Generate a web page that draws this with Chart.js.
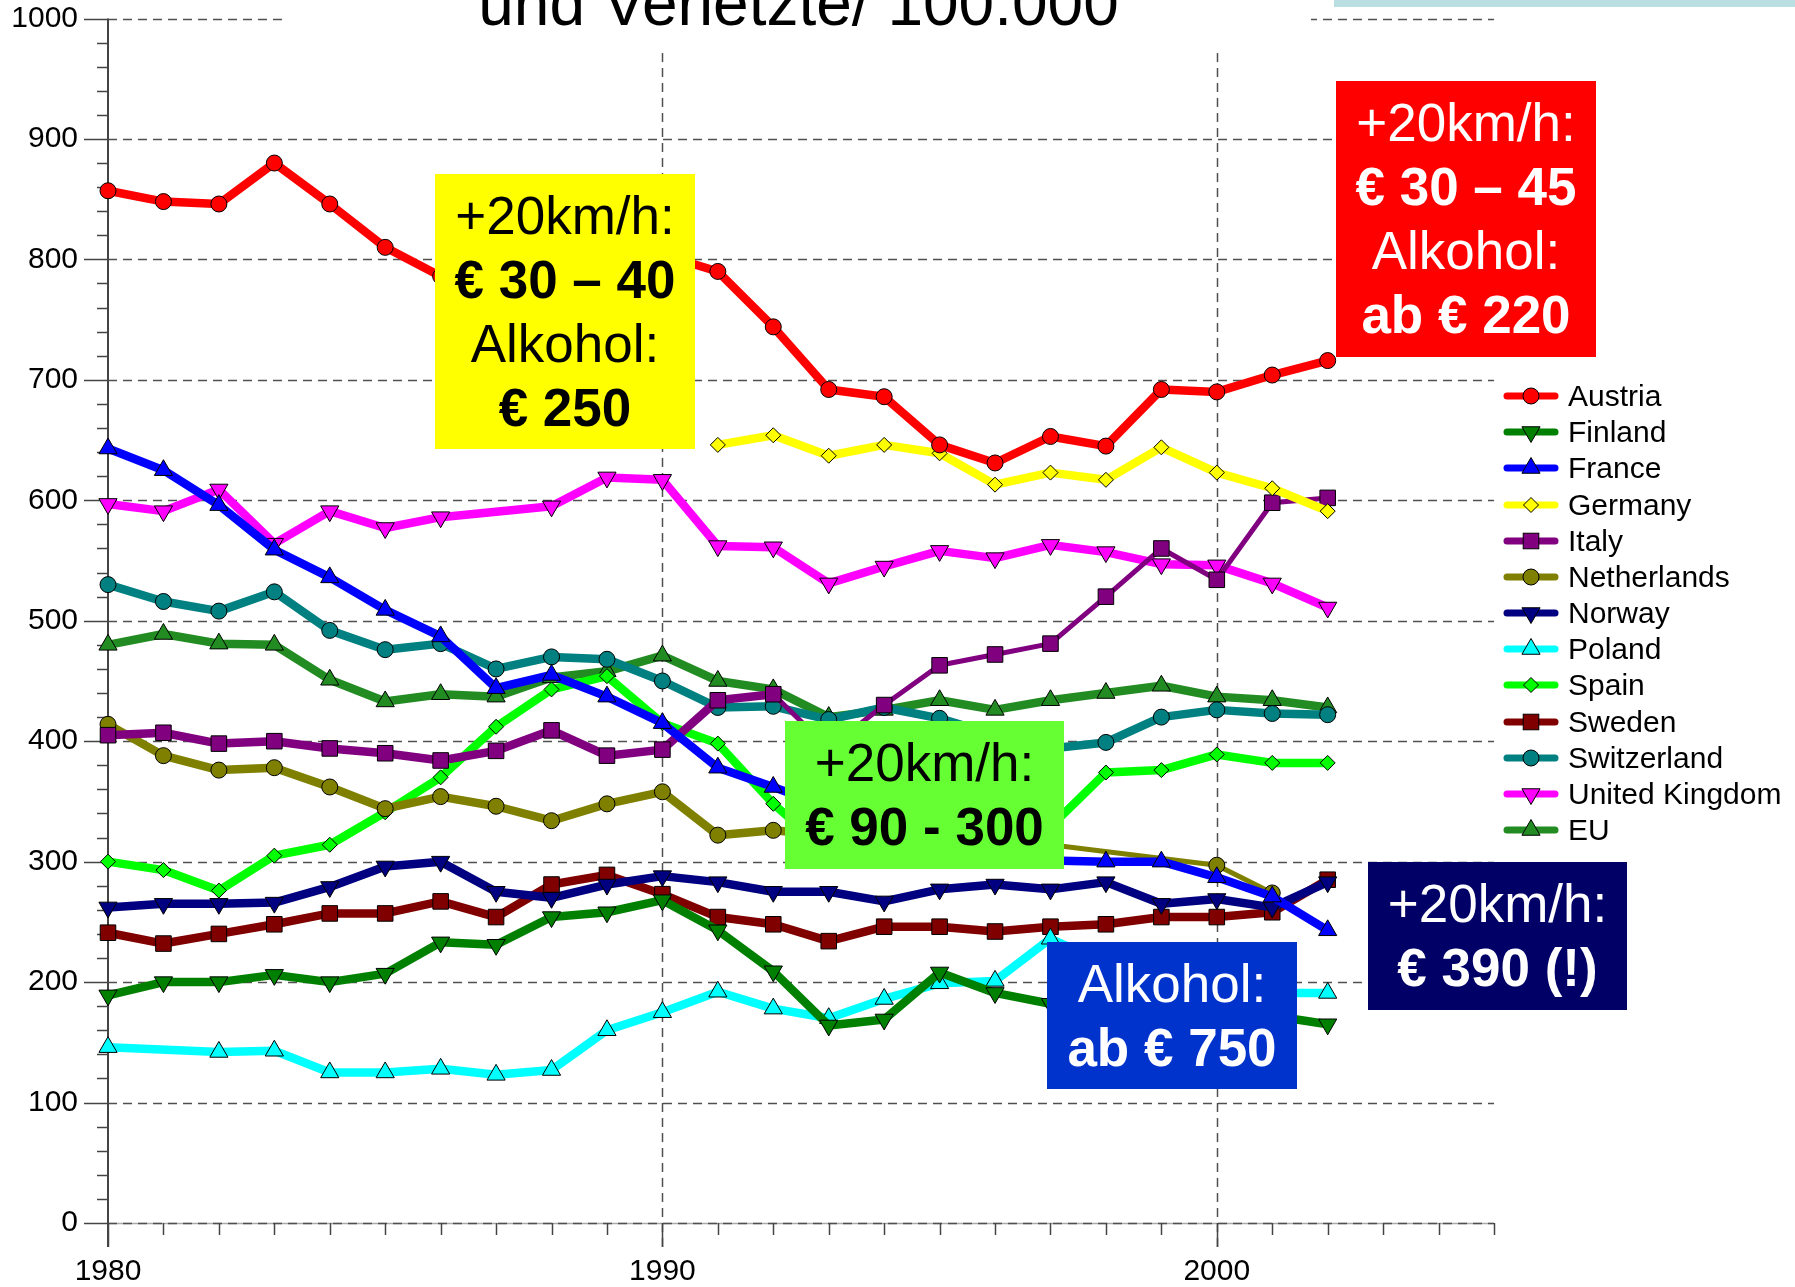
<!DOCTYPE html>
<html>
<head>
<meta charset="utf-8">
<script src="https://cdn.jsdelivr.net/npm/chart.js@4/dist/chart.umd.min.js"></script>
<style>
  body { margin: 0; background: #fff; font-family: "Liberation Sans", Arial, sans-serif; }
  #wrap { position: relative; width: 1795px; height: 1287px; overflow: hidden; background: #fff; }
  #chart { position: absolute; left: 0; top: 0; }
  .title { position: absolute; left: 286px; top: 0; width: 1025px; height: 48px; background: #fff; overflow: visible; }
  .title span { position: absolute; left: 0; right: 0; top: -29px; text-align: center; font-size: 64px; line-height: 64px; white-space: nowrap; color: #000; }
  .topbar { position: absolute; left: 1334px; top: 0; width: 461px; height: 7px; background: #b9dfe3; }
  .note { position: absolute; display: flex; flex-direction: column; justify-content: center; align-items: center;
          font-size: 53px; line-height: 64px; text-align: center; white-space: nowrap; }
  .note b { font-weight: bold; }
  .legend { position: absolute; left: 1503px; top: 0; }
  .legend .row { position: absolute; left: 0; height: 36px; width: 290px; }
  .legend svg { position: absolute; left: 0; top: 0; }
  .legend span { position: absolute; left: 65px; top: 0; font-size: 30px; line-height: 36px; color: #000; white-space: nowrap; }
</style>
</head>
<body>
<div id="wrap">
  <canvas id="chart" width="1795" height="1287"></canvas>
  <div class="title"><span>und Verletzte/ 100.000</span></div>
  <div class="topbar"></div>

  <div class="note" style="left:435px;top:174px;width:260px;height:275px;background:#ffff00;color:#000;">
    <div>+20km/h:</div><div><b>€ 30 – 40</b></div><div>Alkohol:</div><div><b>€ 250</b></div>
  </div>
  <div class="note" style="left:1336px;top:81px;width:260px;height:276px;background:#ff0000;color:#fff;">
    <div>+20km/h:</div><div><b>€ 30 – 45</b></div><div>Alkohol:</div><div><b>ab € 220</b></div>
  </div>
  <div class="note" style="left:785px;top:721px;width:279px;height:148px;background:#66ff33;color:#000;">
    <div>+20km/h:</div><div><b>€ 90 - 300</b></div>
  </div>
  <div class="note" style="left:1047px;top:942px;width:250px;height:147px;background:#0033cc;color:#fff;">
    <div>Alkohol:</div><div><b>ab € 750</b></div>
  </div>
  <div class="note" style="left:1368px;top:862px;width:259px;height:148px;background:#000066;color:#fff;">
    <div>+20km/h:</div><div><b>€ 390 (!)</b></div>
  </div>

  <div class="legend" id="legend"></div>
</div>

<script>
// ---- data (Getötete und Verletzte je 100.000 Einwohner) ----
const years = [1980, 1981, 1982, 1983, 1984, 1985, 1986, 1987, 1988, 1989, 1990, 1991,
               1992, 1993, 1994, 1995, 1996, 1997, 1998, 1999, 2000, 2001, 2002];

const austria     = [857, 848, 846, 880, 846, 810, 786, 768, 782, 798, 804, 790, 744, 692, 686, 646, 631, 653, 645, 692, 690, 704, 716];
const finland     = [189, 200, 200, 206, 200, 207, 233, 231, 254, 258, 268, 243, 209, 164, 169, 208, 191, 182, 180, 178, 175, 172, 165];
const france      = [643, 625, 596, 559, 536, 509, 487, 444, 455, 437, 415, 378, 362, 345, 330, 318, 308, 301, 300, 300, 287, 271, 243];
const germany     = [null, null, null, null, null, null, null, null, null, null, null, 646, 654, 637, 646, 639, 613, 623, 617, 644, 623, 610, 591];
const italy       = [405, 407, 398, 400, 394, 390, 384, 392, 409, 388, 393, 434, 439, 394, 430, 463, 472, 481, 520, 560, 534, 598, 602];
const netherlands = [414, 388, 376, 378, 362, 344, 354, 346, 334, 348, 358, 322, 326, 322, 320, 318, 316, 314, null, null, 297, 274, null];
const norway      = [262, 265, 265, 266, 279, 296, 300, 275, 270, 281, 288, 283, 275, 275, 267, 277, 281, 277, 283, 265, 269, 262, 283];
const poland      = [146, null, 142, 143, 125, 125, 128, 123, 127, 160, 175, 192, 178, 170, 186, 199, 201, 236, 215, 200, 195, 191, 191];
const spain       = [300, 293, 276, 305, 314, 341, 370, 412, 443, 454, 415, 398, 348, 308, 305, 312, 320, 329, 374, 376, 389, 382, 382];
const sweden      = [241, 232, 240, 248, 257, 257, 267, 254, 281, 289, 273, 254, 248, 234, 246, 246, 242, 246, 248, 254, 254, 258, 285];
const switzerland = [530, 516, 508, 524, 492, 476, 481, 460, 470, 468, 450, 428, 429, 418, 428, 419, 405, 394, 399, 420, 426, 423, 422];
const unitedKingdom = [597, 591, 609, 564, 591, 577, 586, null, 595, 619, 617, 562, 561, 531, 545, 558, 552, 563, 557, 547, 546, 531, 511];
const eu          = [480, 489, 481, 480, 451, 433, 439, 437, 453, 458, 471, 450, 443, 420, 426, 434, 426, 434, 440, 446, 437, 434, 428];

const seriesNames  = ['Austria', 'Finland', 'France', 'Germany', 'Italy', 'Netherlands', 'Norway',
                      'Poland', 'Spain', 'Sweden', 'Switzerland', 'United Kingdom', 'EU'];
const seriesValues = [austria, finland, france, germany, italy, netherlands, norway,
                      poland, spain, sweden, switzerland, unitedKingdom, eu];

const yTickValues = [0, 100, 200, 300, 400, 500, 600, 700, 800, 900, 1000];
const xLabelYears = [1980, 1990, 2000];

// ---- styles ----
const seriesColors  = ['#ff0000', '#008000', '#0000ff', '#ffff00', '#800080', '#808000', '#000080',
                       '#00ffff', '#00ff00', '#800000', '#008080', '#ff00ff', '#228b22'];
const seriesMarkers = ['circle', 'triDown', 'triUp', 'diamond', 'square', 'circle', 'triDown',
                       'triUp', 'diamond', 'square', 'circle', 'triDown', 'triUp'];
const MARKERS = {
  circle:  { style: 'circle',   r: 8,    rot: 0 },
  triUp:   { style: 'triangle', r: 10.5, rot: 0 },
  triDown: { style: 'triangle', r: 10.5, rot: 180 },
  diamond: { style: 'rectRot',  r: 7.5,  rot: 0 },
  square:  { style: 'rect',     r: 11,   rot: 0 },
};
// some later stretches are drawn thinner in the original
const thinFrom = { 'Italy': 1992, 'Netherlands': 1997 };
const LINE_W = 8.5, THIN_W = 5;

const FONT = '"Liberation Sans", Arial, sans-serif';

const datasets = seriesNames.map((name, i) => {
  const m = MARKERS[seriesMarkers[i]];
  return {
    label: name,
    data: years.map((yr, k) => ({ x: yr, y: seriesValues[i][k] })),
    borderColor: seriesColors[i],
    backgroundColor: seriesColors[i],
    borderWidth: LINE_W,
    borderJoinStyle: 'round',
    borderCapStyle: 'round',
    pointStyle: m.style,
    pointRadius: m.r,
    pointRotation: m.rot,
    pointBackgroundColor: seriesColors[i],
    pointBorderColor: '#000',
    pointBorderWidth: 1,
    spanGaps: true,
    tension: 0,
    clip: false,
    segment: thinFrom[name] ? {
      borderWidth: ctx => ctx.p0.parsed.x >= thinFrom[name] ? THIN_W : LINE_W,
    } : undefined,
  };
});

// dashed grid, axis line and the little tick marks
const framePlugin = {
  id: 'frame',
  beforeDatasetsDraw(chart) {
    const { ctx, scales: { x, y } } = chart;
    const xl = x.getPixelForValue(1980), xr = x.getPixelForValue(2005);
    const yb = y.getPixelForValue(0), yt = y.getPixelForValue(1000);
    const seg = (a, b, c, d) => { ctx.beginPath(); ctx.moveTo(a, b); ctx.lineTo(c, d); ctx.stroke(); };
    ctx.save();

    // baseline under the dashes
    ctx.strokeStyle = '#aaa';
    ctx.lineWidth = 1.5;
    seg(xl, Math.round(yb) + 0.5, xr, Math.round(yb) + 0.5);

    ctx.strokeStyle = '#505050';
    ctx.lineWidth = 1.5;
    ctx.setLineDash([9, 6]);
    yTickValues.forEach(v => {
      const py = Math.round(y.getPixelForValue(v)) + 0.5;
      seg(xl, py, xr, py);
    });
    xLabelYears.slice(1).forEach(yr => {
      const px = Math.round(x.getPixelForValue(yr)) + 0.5;
      seg(px, yb + 24, px, yt);
    });
    ctx.setLineDash([]);

    // y axis
    ctx.strokeStyle = '#444';
    ctx.lineWidth = 2;
    seg(xl, yt, xl, yb + 24);
    ctx.lineWidth = 1.5;
    for (let v = 0; v <= 1000; v += 20) {
      const py = Math.round(y.getPixelForValue(v)) + 0.5;
      seg(xl - (v % 100 === 0 ? 24 : 11), py, xl, py);
    }
    // x ticks, one per year
    for (let yr = 1980; yr <= 2005; yr++) {
      const px = Math.round(x.getPixelForValue(yr)) + 0.5;
      seg(px, yb, px, yb + (yr % 10 === 0 ? 24 : 12));
    }
    ctx.restore();
  }
};

new Chart(document.getElementById('chart'), {
  type: 'line',
  data: { datasets },
  options: {
    responsive: false,
    animation: false,
    events: [],
    layout: { padding: { top: 18.5, right: 301, left: 0, bottom: 0 } },
    plugins: { legend: { display: false }, tooltip: { enabled: false } },
    scales: {
      x: {
        type: 'linear',
        min: 1980,
        max: 2005,
        grid: { display: false, drawTicks: false },
        border: { display: false },
        ticks: {
          stepSize: 10,
          includeBounds: false,
          autoSkip: false,
          maxRotation: 0,
          padding: 31,
          color: '#000',
          font: { family: FONT, size: 30 },
          callback: v => xLabelYears.includes(v) ? String(v) : '',
        },
        afterFit: s => { s.height = 64; s.paddingLeft = 0; s.paddingRight = 0; },
      },
      y: {
        min: 0,
        max: 1000,
        grid: { display: false, drawTicks: false },
        border: { display: false },
        ticks: {
          stepSize: 100,
          padding: 30,
          color: '#000',
          font: { family: FONT, size: 30 },
          callback: v => yTickValues.includes(v) ? String(v) : '',
        },
        // keep the label gap but not the extra top/bottom room it adds
        afterFit: s => { s.width = 108; s.paddingTop = 0; s.paddingBottom = 0; },
      },
    },
  },
  plugins: [framePlugin],
});

// legend: line sample + marker, built from the same style lists
function markerSvg(kind, color) {
  const cx = 28, cy = 18;
  const m = MARKERS[kind];
  const st = `fill="${color}" stroke="#000" stroke-width="1"`;
  if (kind === 'circle') return `<circle cx="${cx}" cy="${cy}" r="${m.r}" ${st}/>`;
  if (kind === 'square') {
    const h = m.r * Math.SQRT1_2;
    return `<rect x="${cx - h}" y="${cy - h}" width="${2 * h}" height="${2 * h}" ${st}/>`;
  }
  if (kind === 'diamond') {
    const r = m.r;
    return `<polygon points="${cx - r},${cy} ${cx},${cy - r} ${cx + r},${cy} ${cx},${cy + r}" ${st}/>`;
  }
  const s = kind === 'triUp' ? 1 : -1, r = m.r;
  const pts = [[0, -r], [0.866 * r, 0.5 * r], [-0.866 * r, 0.5 * r]]
    .map(([dx, dy]) => `${cx + dx},${cy + s * dy}`).join(' ');
  return `<polygon points="${pts}" ${st}/>`;
}

const legendEl = document.getElementById('legend');
seriesNames.forEach((name, i) => {
  const row = document.createElement('div');
  row.className = 'row';
  row.style.top = (396 + i * 36.17 - 18) + 'px';
  row.innerHTML =
    `<svg width="58" height="36"><line x1="4" y1="18" x2="52" y2="18" stroke="${seriesColors[i]}" stroke-width="7" stroke-linecap="round"/>` +
    markerSvg(seriesMarkers[i], seriesColors[i]) + `</svg><span>${name}</span>`;
  legendEl.appendChild(row);
});
</script>
</body>
</html>
